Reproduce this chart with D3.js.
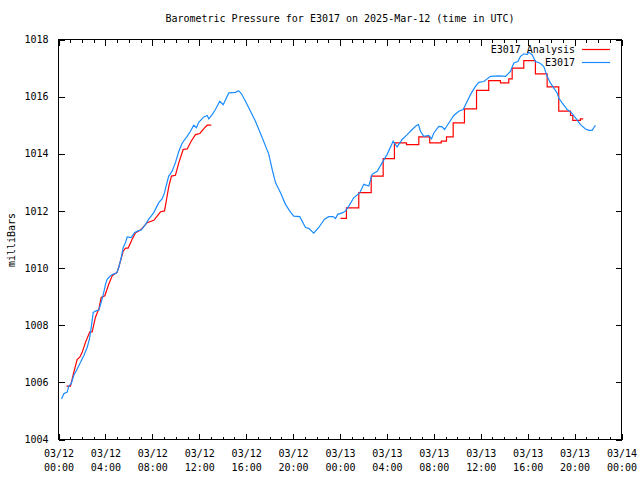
<!DOCTYPE html>
<html>
<head>
<meta charset="utf-8">
<script src="https://cdn.jsdelivr.net/npm/d3@7"></script>
<style>
  html, body { margin: 0; padding: 0; background: #fff; }
  svg { display: block; }
  text { font-family: "DejaVu Sans Mono", "Liberation Mono", monospace; font-size: 10px; fill: #000; }
</style>
</head>
<body>
<svg id="chart" width="640" height="480"></svg>
<script>
// ---- data (hours since 2025-03-12 00:00 UTC, pressure in millibars) ----
const titleText = "Barometric Pressure for E3017 on 2025-Mar-12 (time in UTC)";
const yLabel = "milliBars";
const seriesNames = ["E3017 Analysis", "E3017"];

const obsHours = [0.26,0.45,0.74,0.88,1.08,1.30,1.59,1.88,2.16,2.45,2.64,2.81,2.96,3.24,3.44,3.64,3.86,4.01,4.15,4.43,4.66,4.94,5.14,5.35,5.52,5.71,5.86,6.20,6.48,6.76,7.05,7.42,7.70,8.12,8.55,8.84,9.04,9.12,9.32,9.40,9.69,9.97,10.26,10.55,10.97,11.25,11.53,11.76,11.96,12.39,12.68,12.81,13.10,13.38,13.75,14.04,14.52,15.09,15.35,15.60,15.94,16.37,16.79,17.37,17.93,18.22,18.50,18.93,19.35,19.78,20.06,20.57,21.06,21.34,21.76,22.19,22.68,23.04,23.42,23.61,23.81,24.25,24.47,24.75,25.17,25.69,26.03,26.45,26.74,27.17,27.60,28.02,28.53,28.87,29.30,29.73,30.15,30.52,30.69,30.86,31.14,31.57,31.80,32.00,32.42,32.71,32.91,33.14,33.70,34.13,34.50,34.70,35.12,35.55,35.83,36.26,36.83,37.54,38.11,38.53,38.82,39.16,39.39,39.67,39.96,40.09,40.38,40.66,41.03,41.37,41.66,41.94,42.23,42.51,42.65,42.94,43.37,43.71,44.08,44.50,44.93,45.21,45.50,45.64,45.78];
const obsPressure = [1005.42,1005.60,1005.66,1005.87,1005.95,1006.24,1006.47,1006.70,1006.94,1007.23,1007.52,1007.98,1008.45,1008.51,1008.53,1008.80,1009.15,1009.44,1009.61,1009.73,1009.79,1009.82,1010.02,1010.37,1010.72,1010.89,1011.09,1011.07,1011.24,1011.30,1011.33,1011.53,1011.71,1011.94,1012.29,1012.43,1012.64,1012.78,1013.10,1013.22,1013.39,1013.69,1014.09,1014.38,1014.61,1014.79,1015.00,1014.91,1015.10,1015.29,1015.34,1015.22,1015.37,1015.55,1015.84,1015.72,1016.13,1016.15,1016.21,1016.10,1015.84,1015.49,1015.14,1014.56,1013.98,1013.45,1012.99,1012.64,1012.23,1011.96,1011.82,1011.80,1011.42,1011.39,1011.22,1011.42,1011.71,1011.80,1011.80,1011.73,1011.88,1011.94,1012.00,1012.17,1012.46,1012.64,1012.93,1012.87,1013.28,1013.39,1013.69,1013.98,1014.44,1014.24,1014.50,1014.67,1014.85,1014.99,1015.02,1014.79,1014.61,1014.64,1014.52,1014.73,1014.96,1014.94,1014.85,1014.99,1015.34,1015.49,1015.55,1015.72,1016.07,1016.36,1016.50,1016.53,1016.71,1016.73,1016.71,1016.88,1017.18,1017.23,1017.41,1017.50,1017.47,1017.55,1017.47,1017.23,1017.18,1017.06,1016.71,1016.48,1016.30,1016.13,1015.95,1015.78,1015.55,1015.45,1015.26,1015.02,1014.87,1014.82,1014.82,1014.91,1015.00];

// analysis, first run (continuous)
const anaHoursA = [0.68,1.02,1.30,1.59,1.81,2.02,2.30,2.67,2.87,3.15,3.44,3.64,3.95,4.29,4.58,4.77,5.00,5.29,5.52,5.72,5.94,6.28,6.57,6.99,7.56,8.13,8.70,9.04,9.21,9.41,9.63,9.97,10.26,10.63,10.97,11.31,11.68,12.05,12.45,12.68,13.02];
const anaPressureA = [1005.87,1005.87,1006.35,1006.80,1006.88,1007.05,1007.40,1007.77,1007.77,1008.28,1008.57,1008.97,1009.03,1009.44,1009.73,1009.79,1009.85,1010.25,1010.60,1010.70,1010.70,1011.01,1011.24,1011.33,1011.59,1011.67,1011.97,1012.00,1012.40,1012.87,1013.22,1013.25,1013.69,1014.15,1014.17,1014.44,1014.67,1014.71,1014.91,1015.00,1015.00];
// analysis, second run (hourly steps)
const anaHoursB = [24.04,24.55,25.60,26.66,27.68,28.64,29.67,30.72,31.65,32.63,33.08,33.65,34.61,35.64,36.68,37.68,38.39,38.68,39.67,40.66,41.66,42.65,43.65,43.85,44.50,44.73];
const anaPressureB = [1011.74,1012.11,1012.64,1013.22,1013.83,1014.38,1014.32,1014.59,1014.38,1014.44,1014.59,1015.08,1015.57,1016.22,1016.56,1016.48,1016.62,1017.00,1017.26,1016.80,1016.34,1015.49,1015.34,1015.17,1015.22,1015.22];

const yTicks = [1004,1006,1008,1010,1012,1014,1016,1018];
const xTickDates = ["03/12","03/12","03/12","03/12","03/12","03/12","03/13","03/13","03/13","03/13","03/13","03/13","03/14"];
const xTickTimes = ["00:00","04:00","08:00","12:00","16:00","20:00","00:00","04:00","08:00","12:00","16:00","20:00","00:00"];

const colors = { analysis: "#ff0000", obs: "#1a8cff" };

// ---- drawing ----
const svg = d3.select("#chart");
const t0 = Date.UTC(2025, 2, 12, 0, 0);
const toDate = h => new Date(t0 + h * 3600e3);
const L = 58.5, R = 621.5, T = 39.5, B = 439.5;

const x = d3.scaleUtc().domain([toDate(0), toDate(48)]).range([L, R]);
const y = d3.scaleLinear().domain([1004, 1018]).range([B, T]);

const majorTicks = d3.range(0, 49, 4).map(toDate);
const minorTicks = d3.range(0, 49, 1).filter(h => h % 4 !== 0).map(toDate);

const axesG = svg.append("g").attr("shape-rendering", "crispEdges");

function styleAxis(g) {
  g.select(".domain").remove();
  g.selectAll(".tick line").attr("stroke", "#000");
}

// bottom major (with labels)
const bottom = axesG.append("g").attr("transform", `translate(0,${B})`)
  .call(d3.axisBottom(x).tickValues(majorTicks).tickSize(-6).tickPadding(9).tickFormat(() => ""));
styleAxis(bottom);
bottom.selectAll(".tick text").each(function(d, i) {
  const t = d3.select(this).text(null).attr("y", 0).attr("dy", null);
  t.append("tspan").attr("x", 0).attr("y", 17).text(xTickDates[i]);
  t.append("tspan").attr("x", 0).attr("y", 31).text(xTickTimes[i]);
});
bottom.selectAll(".tick text").attr("font-size", null).attr("font-family", null).attr("fill", "#000");

// bottom minor
styleAxis(axesG.append("g").attr("transform", `translate(0,${B})`)
  .call(d3.axisBottom(x).tickValues(minorTicks).tickSize(-3).tickFormat(() => "")));
// top major/minor
styleAxis(axesG.append("g").attr("transform", `translate(0,${T})`)
  .call(d3.axisTop(x).tickValues(majorTicks).tickSize(-6).tickFormat(() => "")));
styleAxis(axesG.append("g").attr("transform", `translate(0,${T})`)
  .call(d3.axisTop(x).tickValues(minorTicks).tickSize(-3).tickFormat(() => "")));

// left axis
const left = axesG.append("g").attr("transform", `translate(${L},0)`)
  .call(d3.axisLeft(y).tickValues(yTicks).tickSize(-6).tickPadding(10).tickFormat(d3.format("d")));
styleAxis(left);
left.selectAll(".tick text").attr("font-size", null).attr("font-family", null).attr("fill", "#000");
// right axis
styleAxis(axesG.append("g").attr("transform", `translate(${R},0)`)
  .call(d3.axisRight(y).tickValues(yTicks).tickSize(-6).tickFormat(() => "")));

// frame
axesG.append("rect").attr("x", L).attr("y", T).attr("width", R - L).attr("height", B - T)
  .attr("fill", "none").attr("stroke", "#000");

// series
const lineLin = d3.line().x(d => x(toDate(d[0]))).y(d => y(d[1]));
const lineStep = d3.line().curve(d3.curveStepAfter).x(d => x(toDate(d[0]))).y(d => y(d[1]));

svg.append("path").datum(anaHoursA.map((h, i) => [h, anaPressureA[i]]))
  .attr("d", lineLin).attr("fill", "none").attr("stroke", colors.analysis).attr("stroke-width", 1.2);
svg.append("path").datum(anaHoursB.map((h, i) => [h, anaPressureB[i]]))
  .attr("d", lineStep).attr("fill", "none").attr("stroke", colors.analysis).attr("stroke-width", 1.2);
svg.append("path").datum(obsHours.map((h, i) => [h, obsPressure[i]]))
  .attr("d", lineLin).attr("fill", "none").attr("stroke", colors.obs).attr("stroke-width", 1.2);

// title
svg.append("text").attr("x", 340).attr("y", 19).attr("text-anchor", "middle")
  .attr("dominant-baseline", "middle").text(titleText);

// y label
svg.append("text").attr("transform", "translate(12,240) rotate(-90)")
  .attr("text-anchor", "middle").attr("dominant-baseline", "middle").text(yLabel);

// legend
const legend = svg.append("g");
[[seriesNames[0], colors.analysis, 49.5], [seriesNames[1], colors.obs, 62.5]].forEach(([name, c, ly]) => {
  legend.append("text").attr("x", 575).attr("y", ly).attr("text-anchor", "end")
    .attr("dominant-baseline", "middle").text(name);
  legend.append("line").attr("x1", 582).attr("x2", 610).attr("y1", ly).attr("y2", ly)
    .attr("stroke", c).attr("stroke-width", 1.2);
});
</script>
</body>
</html>
